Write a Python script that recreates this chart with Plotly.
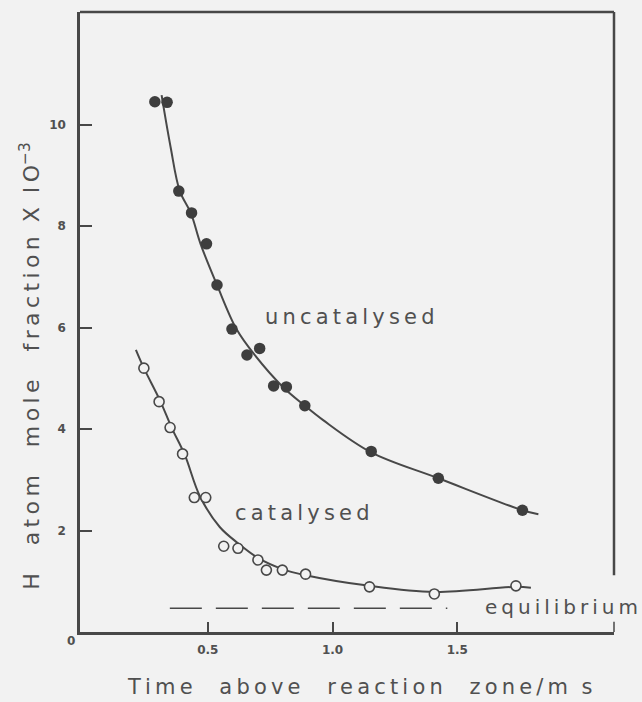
import plotly.graph_objects as go

# Measured points: H atom mole fraction (x 10^-3) against time above reaction zone (ms)
uncat_time = [0.288, 0.337, 0.384, 0.435, 0.495, 0.537, 0.597, 0.657, 0.708,
              0.764, 0.815, 0.889, 1.155, 1.424, 1.761]
uncat_frac = [10.45, 10.44, 8.69, 8.26, 7.65, 6.84, 5.97, 5.46, 5.59,
              4.85, 4.83, 4.46, 3.56, 3.03, 2.40]

cat_time = [0.244, 0.305, 0.349, 0.399, 0.446, 0.492, 0.564, 0.621, 0.701,
            0.735, 0.799, 0.892, 1.148, 1.408, 1.735]
cat_frac = [5.20, 4.54, 4.03, 3.51, 2.65, 2.65, 1.69, 1.65, 1.42,
            1.22, 1.22, 1.14, 0.89, 0.75, 0.91]

# Hand-fitted smooth curves through each set
uncat_curve_t = [0.315, 0.351, 0.388, 0.432, 0.471, 0.537, 0.615, 0.688, 0.801,
                 0.889, 0.961, 1.155, 1.424, 1.761, 1.825]
uncat_curve_y = [10.58, 9.56, 8.69, 8.26, 7.65, 6.84, 5.97, 5.46, 4.83,
                 4.46, 4.18, 3.54, 3.03, 2.40, 2.32]

cat_curve_t = [0.212, 0.244, 0.308, 0.356, 0.408, 0.469, 0.548, 0.621, 0.701,
               0.799, 0.892, 1.148, 1.408, 1.735, 1.795]
cat_curve_y = [5.56, 5.20, 4.57, 4.02, 3.49, 2.67, 2.07, 1.75, 1.46,
               1.24, 1.12, 0.91, 0.79, 0.89, 0.87]

# Equilibrium level and the span over which it is drawn
equil_level = 0.47
equil_span = [0.348, 1.46]

y_ticks = [2, 4, 6, 8, 10]
x_ticks = [0.5, 1.0, 1.5]
x_tick_text = ["0.5", "1.0", "1.5"]

INK = "#484848"
TXT = "#505050"
BG = "#f2f2f2"
FONT = "DejaVu Sans"
THIN = "\u2009"
NBSP = "\u00a0"


def spaced(text, gap=3):
    """Open up the lettering with thin spaces; plain spaces become wide gaps."""
    words = text.split(" ")
    return (NBSP * gap).join(THIN.join(w) for w in words)


fig = go.Figure()

fig.add_trace(go.Scatter(x=uncat_curve_t, y=uncat_curve_y, mode="lines",
                         line=dict(color=INK, width=2, shape="spline", smoothing=1.0),
                         hoverinfo="skip"))
fig.add_trace(go.Scatter(x=cat_curve_t, y=cat_curve_y, mode="lines",
                         line=dict(color=INK, width=2, shape="spline", smoothing=1.0),
                         hoverinfo="skip"))
fig.add_trace(go.Scatter(x=equil_span, y=[equil_level, equil_level], mode="lines",
                         line=dict(color=INK, width=1.5, dash="32px,14px"),
                         hoverinfo="skip"))
fig.add_trace(go.Scatter(x=uncat_time, y=uncat_frac, mode="markers",
                         marker=dict(size=11.5, color="#3e3e3e",
                                     line=dict(color="#3e3e3e", width=0))))
fig.add_trace(go.Scatter(x=cat_time, y=cat_frac, mode="markers",
                         marker=dict(size=10, color=BG,
                                     line=dict(color=INK, width=1.6))))

x_range = [-0.012, 2.128]
y_range = [0, 12.22]

fig.update_layout(
    width=642, height=702,
    margin=dict(l=80, r=28, t=12, b=70),
    paper_bgcolor=BG, plot_bgcolor=BG,
    showlegend=False,
    xaxis=dict(range=x_range, showgrid=False, zeroline=False,
               showline=True, linecolor=INK, linewidth=2.5,
               ticks="inside", ticklen=10, tickwidth=1.5, tickcolor=INK,
               tickvals=x_ticks, ticktext=x_tick_text, ticklabelstandoff=5,
               tickfont=dict(family=FONT, size=12, color=TXT, weight="bold")),
    yaxis=dict(range=y_range, showgrid=False, zeroline=False,
               showline=True, linecolor=INK, linewidth=2.5,
               ticks="inside", ticklen=12, tickwidth=1.5, tickcolor=INK,
               tickvals=y_ticks, ticklabelstandoff=9,
               tickfont=dict(family=FONT, size=12, color=TXT, weight="bold")),
)

# Top border and the right border, which stops short above the equilibrium label
fig.add_shape(type="line", xref="paper", yref="paper", x0=0, x1=1, y0=1, y1=1,
              line=dict(color=INK, width=2.5))
fig.add_shape(type="line", xref="paper", yref="y", x0=1, x1=1, y0=y_range[1], y1=1.12,
              line=dict(color=INK, width=2.5))
fig.add_shape(type="line", xref="paper", yref="y", x0=1, x1=1, y0=0, y1=0.2,
              line=dict(color=INK, width=1.5))

fig.add_annotation(x=1.068, y=6.21, text=spaced("uncatalysed"), showarrow=False,
                   font=dict(family=FONT, size=21, color=TXT))
fig.add_annotation(x=0.88, y=2.34, text=spaced("catalysed"), showarrow=False,
                   font=dict(family=FONT, size=21, color=TXT))
fig.add_annotation(x=1.918, y=0.49, text=spaced("equilibrium"), showarrow=False,
                   font=dict(family=FONT, size=20, color=TXT))

fig.add_annotation(xref="paper", yref="paper", x=-0.017, y=-0.014, text="0",
                   showarrow=False, xanchor="center", yanchor="middle",
                   font=dict(family=FONT, size=12, color=TXT, weight="bold"))

fig.add_annotation(xref="paper", yref="paper", x=0.524, y=-0.111,
                   text=spaced("Time above reaction zone/m", gap=4) + NBSP * 2 + "s",
                   showarrow=False, xanchor="center", yanchor="bottom",
                   font=dict(family=FONT, size=21, color=TXT))
fig.add_annotation(xref="paper", yref="paper", x=-0.094, y=0.429,
                   text=spaced("H atom mole fraction", gap=4) + NBSP * 2
                   + spaced("X IO", gap=2) + "<sup>−3</sup>",
                   textangle=-90, showarrow=False, xanchor="center", yanchor="middle",
                   font=dict(family=FONT, size=22, color=TXT))

fig.write_html("out.html")
